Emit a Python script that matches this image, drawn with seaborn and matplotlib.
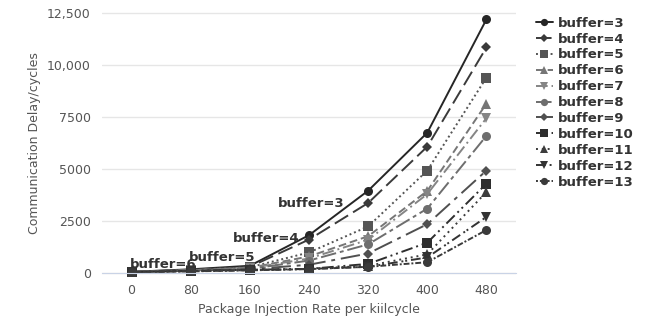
import numpy as np
import pandas as pd
import matplotlib
matplotlib.use("Agg")
import matplotlib.pyplot as plt
import seaborn as sns

# data
rates = ["0", "80", "160", "240", "320", "400", "480"]
buffers = [3, 4, 5, 6, 7, 8, 9, 10, 11, 12, 13]
delay = {
    3: [60, 180, 350, 1820, 3960, 6750, 12200],
    4: [55, 160, 300, 1610, 3370, 6080, 10850],
    5: [50, 150, 280, 990, 2240, 4930, 9400],
    6: [50, 140, 250, 800, 1770, 3950, 8150],
    7: [50, 130, 230, 700, 1600, 3800, 7450],
    8: [50, 120, 200, 600, 1380, 3100, 6600],
    9: [50, 110, 180, 400, 940, 2350, 4930],
    10: [50, 100, 160, 200, 440, 1460, 4300],
    11: [50, 100, 150, 200, 350, 900, 3900],
    12: [50, 90, 140, 200, 300, 750, 2700],
    13: [50, 80, 130, 190, 300, 520, 2070],
}

colors = ["#262626", "#3a3a3a", "#555555", "#767676", "#858585", "#6e6e6e",
          "#505050", "#2e2e2e", "#3c3c3c", "#333333", "#3a3a3a"]
markers = ["o", "D", "s", "^", "v", "o", "D", "s", "^", "v", "o"]
dashes = [(None, None), (8, 3), (1, 1.5), (4, 2), (6, 2, 1, 2), (8, 2, 2, 2),
          (10, 3, 2, 3), (6, 2, 1, 2, 1, 2), (1, 2), (5, 2, 1, 1, 1, 2), (1, 1, 3, 1)]

rows = []
for b in buffers:
    for i, v in enumerate(delay[b]):
        rows.append({"pos": i, "delay": v, "series": f"buffer={b}"})
df = pd.DataFrame(rows)

sns.set_style("white")
fig = plt.figure(figsize=(6.54, 3.23), dpi=100)
ax = fig.add_axes([0.156, 0.145, 0.633, 0.824])

for k, b in enumerate(buffers):
    sub = df[df["series"] == f"buffer={b}"]
    ms = 5 if markers[k] == "D" else 6.5
    sns.lineplot(data=sub, x="pos", y="delay", ax=ax, color=colors[k],
                 marker=markers[k], markersize=ms, markeredgewidth=0,
                 linewidth=1.4, label=f"buffer={b}")
    if dashes[k][0] is not None:
        ax.lines[-1].set_dashes(dashes[k])

ax.set_xlim(-0.5, 6.5)
ax.set_ylim(-150, 12650)
ax.set_xticks(range(len(rates)))
ax.set_xticklabels(rates)
ax.set_xticks(np.arange(-0.5, 7, 1), minor=True)
ax.set_yticks([0, 2500, 5000, 7500, 10000, 12500])
ax.set_yticklabels(["0", "2500", "5000", "7500", "10,000", "12,500"])
ax.grid(axis="y", color="#e6e6e6", linewidth=1)
ax.set_axisbelow(True)
for s in ["top", "right", "left"]:
    ax.spines[s].set_visible(False)
ax.spines["bottom"].set_color("#c9d3e6")
ax.spines["bottom"].set_position(("data", 0))
ax.tick_params(axis="x", which="major", length=0, colors="#555555", labelsize=9, pad=8)
ax.tick_params(axis="x", which="minor", length=10, color="#c9d3e6", direction="out")
ax.tick_params(axis="y", length=0, colors="#555555", labelsize=9, pad=8)
ax.set_xlabel("Package Injection Rate per kiilcycle", color="#555555", fontsize=9)
ax.set_ylabel("Communication Delay/cycles", color="#555555", fontsize=9)

# labels on the curves
ax.text(2.48, 3200, "buffer=3", fontsize=9.5, fontweight="bold", color="#333333")
ax.text(1.72, 1470, "buffer=4", fontsize=9.5, fontweight="bold", color="#333333")
ax.text(0.97, 560, "buffer=5", fontsize=9.5, fontweight="bold", color="#333333")
ax.text(-0.03, 250, "buffer=6", fontsize=9.5, fontweight="bold", color="#333333")

leg = ax.legend(loc="upper left", bbox_to_anchor=(1.035, 0.995), frameon=False,
                prop={"weight": "bold", "size": 9.5}, handlelength=1.3,
                handletextpad=0.4, labelspacing=0.22, borderaxespad=0,
                markerscale=0.8)
for t in leg.get_texts():
    t.set_color("#333333")

fig.savefig("out.png", dpi=100)
